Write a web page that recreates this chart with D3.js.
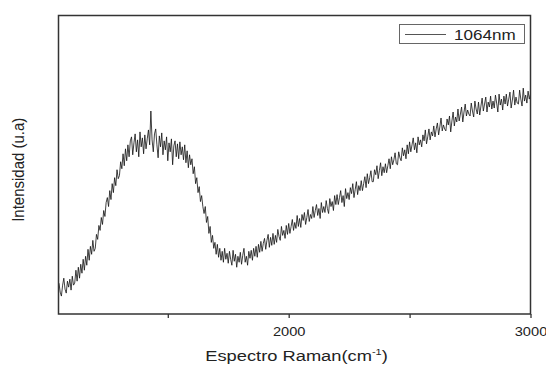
<!DOCTYPE html>
<html>
<head>
<meta charset="utf-8">
<script src="https://cdn.jsdelivr.net/npm/d3@7"></script>
<style>
  html, body { margin: 0; padding: 0; background: #fff; }
  svg { display: block; font-family: "Liberation Sans", Arial, sans-serif; }
</style>
</head>
<body>
<div id="chart"></div>
<script>
// Raman spectrum, 1064 nm excitation (5 cm-1 apart)
const shiftStart = 1050;
const shiftStep = 5;
const intensity = [
  31, 22, 18, 29, 36, 25, 21, 33, 27, 35,
  24, 38, 29, 31, 44, 33, 47, 36, 50, 41,
  55, 44, 58, 49, 65, 54, 68, 60, 74, 63,
  66, 80, 75, 89, 84, 97, 90, 104, 98, 112,
  117, 108, 124, 115, 131, 122, 137, 129, 145, 136,
  139, 153, 146, 161, 149, 166, 154, 170, 158, 174,
  178, 160, 172, 181, 163, 175, 158, 183, 168, 177,
  161, 180, 166, 176, 185, 170, 204, 175, 163, 181,
  186, 170, 157, 179, 168, 182, 160, 174, 165, 178,
  154, 172, 163, 176, 150, 169, 174, 158, 171, 156,
  173, 160, 168, 155, 170, 152, 164, 147, 160, 150,
  156, 141, 148, 131, 137, 122, 128, 113, 119, 108,
  101, 108, 92, 98, 81, 88, 72, 79, 66, 72,
  60, 70, 57, 66, 54, 63, 52, 66, 55, 61,
  51, 63, 55, 49, 64, 53, 60, 47, 58, 52,
  62, 50, 59, 66, 52, 58, 49, 63, 56, 64,
  54, 66, 58, 68, 57, 70, 62, 73, 63, 71,
  76, 65, 74, 80, 67, 77, 69, 81, 70, 79,
  72, 85, 78, 74, 88, 79, 84, 76, 89, 80,
  91, 81, 88, 95, 84, 92, 86, 99, 88, 96,
  87, 100, 94, 102, 90, 97, 105, 93, 100, 96,
  108, 97, 104, 110, 99, 106, 96, 112, 102, 108,
  102, 114, 106, 101, 116, 108, 113, 104, 119, 110,
  120, 110, 117, 124, 112, 119, 108, 126, 116, 122,
  115, 127, 121, 131, 117, 125, 133, 120, 129, 124,
  134, 124, 131, 138, 127, 141, 131, 137, 144, 133,
  133, 145, 140, 149, 136, 144, 152, 139, 148, 142,
  151, 142, 149, 156, 146, 158, 150, 155, 162, 151,
  150, 163, 157, 154, 167, 159, 165, 156, 170, 161,
  173, 163, 170, 177, 165, 172, 162, 178, 170, 175,
  168, 180, 174, 185, 171, 178, 186, 175, 183, 179,
  189, 178, 186, 192, 180, 188, 197, 184, 190, 186,
  184, 196, 190, 199, 183, 194, 203, 189, 198, 193,
  206, 194, 201, 208, 193, 203, 211, 199, 205, 201,
  199, 212, 204, 198, 214, 206, 201, 213, 200, 209,
  217, 204, 211, 218, 203, 213, 208, 219, 206, 214,
  207, 220, 212, 203, 221, 210, 216, 205, 219, 211,
  221, 209, 216, 223, 207, 215, 225, 210, 218, 212,
  211, 225, 216, 209, 227, 214, 220, 212, 224, 216,
  221
];
const xTicks = [1500, 2000, 2500, 3000];
const xTickLabels = ['', '2000', '', '3000'];
const legendLabel = '1064nm';

const width = 546, height = 365;
const plot = { left: 58.5, right: 530.5, top: 15.5, bottom: 314 };
const stretch = 1.22; // the source text is stretched horizontally

const data = intensity.map((v, i) => ({ shift: shiftStart + i * shiftStep, value: v }));

const x = d3.scaleLinear().domain([1048, 3000]).range([plot.left, plot.right]);
const y = d3.scaleLinear().domain([0, 300]).range([plot.bottom, plot.top]);

const svg = d3.select('#chart').append('svg')
  .attr('width', width)
  .attr('height', height);

// spectrum
const line = d3.line().x(d => x(d.shift)).y(d => y(d.value));
svg.append('path')
  .datum(data)
  .attr('fill', 'none')
  .attr('stroke', '#111')
  .attr('stroke-width', 0.8)
  .attr('d', line);

// x axis ticks below the frame
const xAxis = d3.axisBottom(x)
  .tickValues(xTicks)
  .tickSize(4)
  .tickPadding(9)
  .tickFormat((d, i) => xTickLabels[i]);

const gx = svg.append('g')
  .attr('transform', `translate(0,${plot.bottom})`)
  .call(xAxis);
gx.select('.domain').remove();
gx.selectAll('.tick line').attr('stroke', '#333').attr('stroke-width', 1.3);
gx.selectAll('.tick text')
  .attr('fill', '#222')
  .style('font-size', '12px')
  .attr('transform', `scale(${stretch},1)`);

// frame
svg.append('rect')
  .attr('x', plot.left)
  .attr('y', plot.top)
  .attr('width', plot.right - plot.left)
  .attr('height', plot.bottom - plot.top)
  .attr('fill', 'none')
  .attr('stroke', '#333')
  .attr('stroke-width', 1.5);

// axis titles
const xTitle = svg.append('text')
  .attr('transform', `translate(${(plot.left + plot.right) / 2 + 2},361) scale(${stretch},1)`)
  .attr('text-anchor', 'middle')
  .attr('fill', '#222')
  .style('font-size', '15px');
xTitle.append('tspan').text('Espectro Raman(cm');
xTitle.append('tspan').attr('dy', -6).style('font-size', '9px').text('-1');
xTitle.append('tspan').attr('dy', 6).text(')');

svg.append('text')
  .attr('transform', `translate(24,${(plot.top + plot.bottom) / 2 + 5}) scale(1.15,1) rotate(-90)`)
  .attr('text-anchor', 'middle')
  .attr('fill', '#222')
  .style('font-size', '15px')
  .text('Intensidad (u.a)');

// legend
const legend = svg.append('g');
legend.append('rect')
  .attr('x', 399.5).attr('y', 24.5)
  .attr('width', 125).attr('height', 19)
  .attr('fill', '#fff')
  .attr('stroke', '#666')
  .attr('stroke-width', 1);
legend.append('line')
  .attr('x1', 405).attr('x2', 446)
  .attr('y1', 34.5).attr('y2', 34.5)
  .attr('stroke', '#555')
  .attr('stroke-width', 1);
legend.append('text')
  .attr('transform', `translate(454,39.5) scale(${stretch},1)`)
  .attr('fill', '#222')
  .style('font-size', '14px')
  .text(legendLabel);
</script>
</body>
</html>
